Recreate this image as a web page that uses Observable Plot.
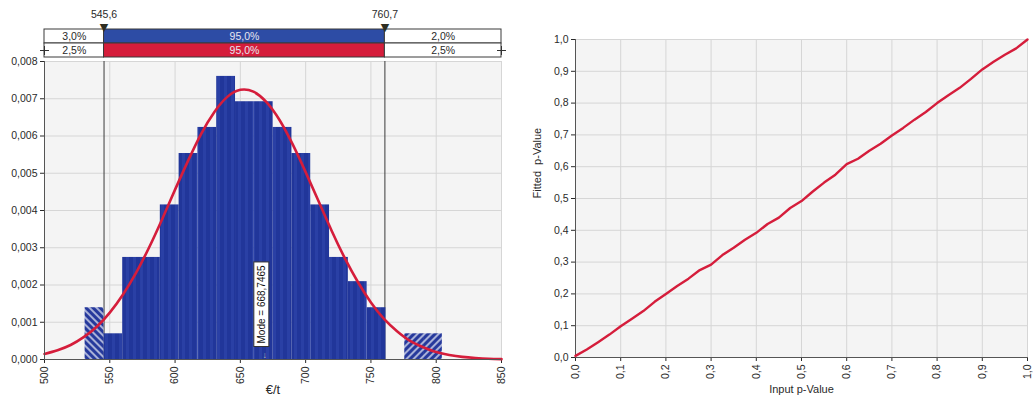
<!DOCTYPE html>
<html>
<head>
<meta charset="utf-8">
<script src="https://cdn.jsdelivr.net/npm/d3@7"></script>
<script src="https://cdn.jsdelivr.net/npm/@observablehq/plot@0.6"></script>
<style>
  html, body { margin: 0; padding: 0; background: #fff; }
  #wrap { display: flex; flex-direction: row; width: 1034px; height: 404px; overflow: hidden; }
  #left { width: 520px; display: flex; flex-direction: column; }
  #right { width: 514px; }
  svg { overflow: visible; }
</style>
</head>
<body>
<svg width="0" height="0" style="position:absolute">
  <defs>
    <pattern id="barFill" patternUnits="userSpaceOnUse" width="7" height="10">
      <rect width="7" height="10" fill="#21369a"></rect>
      <rect x="0" width="3" height="10" fill="#2a40a5"></rect>
    </pattern>
    <pattern id="hatchL" patternUnits="userSpaceOnUse" width="5" height="5" patternTransform="rotate(-45)">
      <rect width="5" height="5" fill="#26399c"></rect>
      <line x1="1" y1="0" x2="1" y2="5" stroke="#ffffff" stroke-width="1.2"></line>
    </pattern>
    <pattern id="hatchR" patternUnits="userSpaceOnUse" width="5" height="5" patternTransform="rotate(45)">
      <rect width="5" height="5" fill="#26399c"></rect>
      <line x1="1" y1="0" x2="1" y2="5" stroke="#ffffff" stroke-width="1.2"></line>
    </pattern>
  </defs>
</svg>
<div id="wrap">
  <div id="left"></div>
  <div id="right"></div>
</div>
<script>
// ---------------- data ----------------
const histTicks = [500, 550, 600, 650, 700, 750, 800, 850];
const densityTicks = [0, 0.001, 0.002, 0.003, 0.004, 0.005, 0.006, 0.007, 0.008];
const binEdges = [531.1, 545.5, 559.9, 574.3, 588.7, 603.1, 617.5, 631.9, 646.3, 660.7, 675.1,
                  689.5, 703.9, 718.3, 732.7, 747.1, 761.5, 775.9, 790.3, 804.7];
const binDensity = [0.00139, 0.00069, 0.00274, 0.00274, 0.00415, 0.00553, 0.00623, 0.0076, 0.00692, 0.00692,
                    0.00623, 0.00553, 0.00415, 0.00274, 0.00209, 0.00139, 0, 0.00069, 0.00069];
const binStatus = ["low", "in", "in", "in", "in", "in", "in", "in", "in", "in",
                   "in", "in", "in", "in", "in", "in", "in", "high", "high"];
const curveX = [500, 510, 520, 530, 540, 550, 560, 570, 580, 590, 600, 610, 620, 630, 640, 650, 660, 670,
                680, 690, 700, 710, 720, 730, 740, 750, 760, 770, 780, 790, 800, 810, 820, 830, 840, 850];
const curveY = [0.00015, 0.00025, 0.00039, 0.0006, 0.00088, 0.00126, 0.00174, 0.00232, 0.003, 0.00376,
                0.00456, 0.00534, 0.00606, 0.00664, 0.00705, 0.00724, 0.00719, 0.00691, 0.00643, 0.00578,
                0.00503, 0.00424, 0.00345, 0.00272, 0.00208, 0.00153, 0.00109, 0.00076, 0.0005, 0.00033,
                0.0002, 0.00012, 0.00007, 0.00004, 0.00002, 0.00001];
const delimiters = [545.6, 760.7];
const delimiterLabels = ["545,6", "760,7"];
const inputPct = ["3,0%", "95,0%", "2,0%"];
const fitPct = ["2,5%", "95,0%", "2,5%"];
const modeValue = 668.7465;
const modeLabel = "Mode = 668,7465";

const pTicks = [0, 0.1, 0.2, 0.3, 0.4, 0.5, 0.6, 0.7, 0.8, 0.9, 1.0];
const inputP = [0, 0.025, 0.05, 0.075, 0.1, 0.125, 0.15, 0.175, 0.2, 0.225, 0.25, 0.275, 0.3, 0.325, 0.35,
                0.375, 0.4, 0.425, 0.45, 0.475, 0.5, 0.525, 0.55, 0.575, 0.6, 0.625, 0.65, 0.675, 0.7,
                0.725, 0.75, 0.775, 0.8, 0.825, 0.85, 0.875, 0.9, 0.925, 0.95, 0.975, 1.0];
const fittedP = [0.005, 0.025, 0.048, 0.072, 0.098, 0.122, 0.146, 0.175, 0.2, 0.225, 0.248, 0.275, 0.292, 0.322,
                 0.345, 0.37, 0.392, 0.42, 0.44, 0.47, 0.492, 0.522, 0.55, 0.575, 0.608, 0.625, 0.65, 0.672,
                 0.698, 0.722, 0.748, 0.772, 0.8, 0.825, 0.848, 0.876, 0.906, 0.93, 0.952, 0.972, 1.0];

// ---------------- helpers ----------------
const comma = (fmt) => (d) => d3.format(fmt)(d).replace(".", ",");
const FONT = "'Liberation Sans', Arial, sans-serif";
const baseStyle = {fontFamily: FONT, fontSize: "10.5px", color: "#2a2a2a", background: "transparent", overflow: "visible"};
const BLUE = "#2d4ca5";
const RED = "#d51d3b";

// ---------------- delimiter bands ----------------
const segEdges = [histTicks[0], ...delimiters, histTicks[histTicks.length - 1]];
const cells = [];
for (let i = 0; i < 3; i++) {
  cells.push({x1: segEdges[i], x2: segEdges[i + 1], row: "input", label: inputPct[i], mid: i === 1});
  cells.push({x1: segEdges[i], x2: segEdges[i + 1], row: "fit", label: fitPct[i], mid: i === 1});
}
const bandPlot = Plot.plot({
  width: 520, height: 57,
  marginLeft: 44, marginRight: 19, marginTop: 28, marginBottom: 0,
  style: baseStyle,
  x: {domain: [500, 850], axis: null},
  y: {domain: ["input", "fit"], axis: null, padding: 0},
  marks: [
    Plot.barX(cells, {x1: "x1", x2: "x2", y: "row", inset: 0,
      fill: d => d.mid ? (d.row === "input" ? BLUE : RED) : "#ffffff",
      stroke: "#3a3a3a", strokeWidth: 1}),
    Plot.text(cells, {x: d => (d.x1 + d.x2) / 2, y: "row", text: "label",
      fill: d => d.mid ? "#e6e6f0" : "#2a2a2a", fontSize: 10.5}),
    Plot.dot([histTicks[0], histTicks[histTicks.length - 1]], {x: d => d, y: () => "fit",
      symbol: "plus", r: 3, stroke: "#333", strokeWidth: 1}),
    Plot.text(delimiters, {x: d => d, frameAnchor: "top", text: (d, i) => delimiterLabels[i],
      dy: -18, fontSize: 10.5, fill: "#2a2a2a"}),
    Plot.text(delimiters, {x: d => d, frameAnchor: "top", text: () => "▼",
      dy: -5, fontSize: 11, fontFamily: "DejaVu Sans", fill: "#2e2e22"})
  ]
});

// ---------------- histogram ----------------
const bins = binDensity.map((v, i) => ({x1: binEdges[i], x2: binEdges[i + 1], y: v, status: binStatus[i]}));
const histPlot = Plot.plot({
  width: 520, height: 347,
  marginLeft: 44, marginRight: 19, marginTop: 4, marginBottom: 45,
  style: baseStyle,
  x: {domain: [500, 850], ticks: histTicks, tickFormat: d => String(d), tickRotate: -90, tickSize: 4, tickPadding: 3, label: null},
  y: {domain: [0, 0.008], ticks: densityTicks, tickFormat: comma(".3f"), tickSize: 4, tickPadding: 3, label: null},
  marks: [
    Plot.frame({fill: "#f4f4f4", stroke: "none"}),
    Plot.ruleX(histTicks, {stroke: "#d6d6d6", strokeWidth: 1}),
    Plot.ruleY(densityTicks, {stroke: "#d6d6d6", strokeWidth: 1}),
    Plot.ruleX(delimiters, {stroke: "#3a3a3a", strokeWidth: 1}),
    Plot.rectY(bins.filter(d => d.status === "in"), {x1: "x1", x2: "x2", y: "y", fill: "url(#barFill)", inset: 0}),
    Plot.rectY(bins.filter(d => d.status === "low"), {x1: "x1", x2: "x2", y: "y", fill: "url(#hatchL)", inset: 0}),
    Plot.rectY(bins.filter(d => d.status === "high"), {x1: "x1", x2: "x2", y: "y", fill: "url(#hatchR)", inset: 0}),
    Plot.line(curveX.map((x, i) => ({x, y: curveY[i]})), {x: "x", y: "y", stroke: RED, strokeWidth: 2.6, curve: "natural"}),
    Plot.ruleX([histTicks[0]], {stroke: "#555", strokeWidth: 1}),
    Plot.ruleY([0], {stroke: "#555", strokeWidth: 1}),
    Plot.text([modeValue], {x: d => d, frameAnchor: "bottom", text: () => modeLabel, rotate: -90,
      textAnchor: "start", dy: -16, fontSize: 10, fill: "#111"}),
    Plot.text([modeValue], {x: d => d, frameAnchor: "bottom", text: () => "↓", dy: -2, fontSize: 9, fill: "#bbb"}),
    Plot.text(["€/t"], {frameAnchor: "bottom", text: d => d, dy: 34, fontSize: 13, fill: "#2a2a2a"})
  ]
});

// ---------------- P-P plot ----------------
const ppPlot = Plot.plot({
  width: 514, height: 404,
  marginLeft: 55, marginRight: 7, marginTop: 39, marginBottom: 47,
  style: baseStyle,
  x: {domain: [0, 1], ticks: pTicks, tickFormat: comma(".1f"), tickRotate: -90, tickSize: 4, tickPadding: 3, label: null},
  y: {domain: [0, 1], ticks: pTicks, tickFormat: comma(".1f"), tickSize: 4, tickPadding: 3, label: null},
  marks: [
    Plot.frame({fill: "#f4f4f4", stroke: "none"}),
    Plot.ruleX(pTicks, {stroke: "#d6d6d6", strokeWidth: 1}),
    Plot.ruleY(pTicks, {stroke: "#d6d6d6", strokeWidth: 1}),
    Plot.ruleX([0], {stroke: "#555", strokeWidth: 1}),
    Plot.ruleY([0], {stroke: "#555", strokeWidth: 1}),
    Plot.line(inputP.map((x, i) => ({x, y: fittedP[i]})), {x: "x", y: "y", stroke: RED, strokeWidth: 2.4}),
    Plot.text(["Fitted  p-Value"], {frameAnchor: "left", text: d => d, rotate: -90, dx: -38, fontSize: 11, fill: "#2a2a2a"}),
    Plot.text(["Input p-Value"], {frameAnchor: "bottom", text: d => d, dy: 35, fontSize: 11, fill: "#2a2a2a"})
  ]
});

document.getElementById("left").append(bandPlot, histPlot);
document.getElementById("right").append(ppPlot);

// white box behind the mode label
for (const t of histPlot.querySelectorAll("text")) {
  if (t.textContent === modeLabel) {
    const bb = t.getBBox();
    const r = document.createElementNS("http://www.w3.org/2000/svg", "rect");
    r.setAttribute("x", bb.x - 3);
    r.setAttribute("y", bb.y - 2);
    r.setAttribute("width", bb.width + 6);
    r.setAttribute("height", bb.height + 4);
    r.setAttribute("fill", "#ffffff");
    r.setAttribute("stroke", "#333");
    r.setAttribute("stroke-width", "1");
    const tr = t.getAttribute("transform");
    if (tr) r.setAttribute("transform", tr);
    t.parentNode.insertBefore(r, t);
  }
}
</script>
</body>
</html>
